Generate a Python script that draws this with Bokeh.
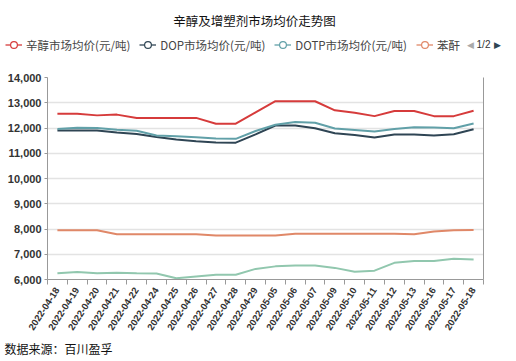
import math
from bokeh.plotting import figure
from bokeh.layouts import column
from bokeh.models import (ColumnDataSource, Range1d, FixedTicker, NumeralTickFormatter,
                          LinearAxis, Legend, LegendItem, Label)
from bokeh.embed import file_html
from bokeh.resources import INLINE

dates = ["2022-04-18", "2022-04-19", "2022-04-20", "2022-04-21", "2022-04-22", "2022-04-24",
         "2022-04-25", "2022-04-26", "2022-04-27", "2022-04-28", "2022-04-29", "2022-05-05",
         "2022-05-06", "2022-05-07", "2022-05-09", "2022-05-10", "2022-05-11", "2022-05-12",
         "2022-05-13", "2022-05-16", "2022-05-17", "2022-05-18"]
octanol = [12560, 12560, 12500, 12530, 12400, 12400, 12400, 12400, 12170, 12170, 12620,
           13060, 13060, 13060, 12700, 12600, 12470, 12670, 12670, 12470, 12470, 12680]
dop = [11900, 11900, 11900, 11820, 11760, 11640, 11540, 11480, 11430, 11420, 11750,
       12100, 12100, 11990, 11790, 11720, 11620, 11740, 11740, 11700, 11750, 11950]
dotp = [11960, 12010, 12000, 11930, 11890, 11700, 11670, 11630, 11580, 11570, 11880,
        12130, 12240, 12210, 11980, 11920, 11860, 11960, 12030, 12020, 11990, 12180]
pa = [7950, 7950, 7950, 7790, 7790, 7790, 7790, 7790, 7740, 7740, 7740,
      7740, 7810, 7810, 7810, 7810, 7810, 7810, 7790, 7900, 7950, 7960]
pta = [6250, 6300, 6250, 6270, 6250, 6240, 6050, 6120, 6190, 6190, 6420,
       6520, 6550, 6550, 6460, 6310, 6350, 6660, 6730, 6730, 6820, 6790]
series_names = ["辛醇市场均价(元/吨)", "DOP市场均价(元/吨)", "DOTP市场均价(元/吨)", "苯酐", "PTA"]
series_colors = ["#d63b3b", "#2f4554", "#61a0a8", "#e08868", "#91c7ae"]
y_ticks = [6000, 7000, 8000, 9000, 10000, 11000, 12000, 13000, 14000]
title_text = "辛醇及增塑剂市场均价走势图"
source_text = "数据来源：百川盈孚"
pager_text = "1/2"

W = 516
FONT = "Noto Sans CJK SC"
xc = [i + 0.5 for i in range(len(dates))]


def blank(h):
    f = figure(width=W, height=h, output_backend="svg", toolbar_location=None,
               x_range=Range1d(0, W), y_range=Range1d(h, 0),
               x_axis_type=None, y_axis_type=None, min_border=0,
               min_border_left=0, min_border_right=0, min_border_top=0, min_border_bottom=0)
    f.frame_align = False
    f.outline_line_color = None
    f.background_fill_color = "white"
    return f


# ---------- header: title + legend ----------
HH = 55
head = blank(HH)
head.add_layout(Label(x=254, y=20, text=title_text, text_align="center", text_baseline="middle",
                      text_font=FONT, text_font_size="12.5px", text_color="#111111"))
# legend-only renderers (a single point placed off the visible header area)
offscreen = ColumnDataSource(dict(x=[-1000], y=[-1000]))
items = []
for name, col in zip(series_names[:4], series_colors[:4]):
    lr = head.line("x", "y", source=offscreen, line_color=col, line_width=1.3)
    mr = head.scatter("x", "y", source=offscreen, marker="circle", fill_color="white",
                      line_color=col, line_width=1.2)
    items.append(LegendItem(label=name, renderers=[lr, mr]))
legend = Legend(items=items, orientation="horizontal", location=(5, 2),
                label_text_font=FONT, label_text_font_size="11.5px", label_text_color="#444444",
                glyph_width=17, glyph_height=17, label_height=17, label_standoff=4, spacing=9,
                padding=0, margin=0, border_line_alpha=0, background_fill_alpha=0)
head.add_layout(legend, "center")
head.add_layout(Label(x=470, y=44, text="◀", text_align="center", text_baseline="middle",
                      text_font="DejaVu Sans", text_font_size="9px", text_color="#aaaaaa"))
head.add_layout(Label(x=483, y=44, text=pager_text, text_align="center", text_baseline="middle",
                      text_font="Liberation Sans", text_font_size="10px", text_color="#333333"))
head.add_layout(Label(x=497, y=44, text="▶", text_align="center", text_baseline="middle",
                      text_font="DejaVu Sans", text_font_size="9px", text_color="#2f4554"))

# ---------- main chart ----------
p = figure(width=W, height=280, output_backend="svg", toolbar_location=None,
           x_range=Range1d(0, len(dates)), y_range=Range1d(y_ticks[0], y_ticks[-1]),
           min_border_left=47, min_border_right=33, min_border_top=22, min_border_bottom=55)
p.frame_align = False
p.outline_line_color = None
p.background_fill_color = "white"

p.xaxis.ticker = FixedTicker(ticks=xc, minor_ticks=list(range(len(dates) + 1)))
p.xaxis.major_label_overrides = {c: d for c, d in zip(xc, dates)}
p.xaxis.major_tick_line_color = None
p.xaxis.major_tick_out = 0
p.xaxis.major_tick_in = 0
p.xaxis.minor_tick_line_color = "#999999"
p.xaxis.minor_tick_out = 5
p.xaxis.minor_tick_in = 0
p.xaxis.axis_line_color = "#999999"
p.xaxis.major_label_orientation = math.radians(57)
p.xaxis.major_label_standoff = 4
p.xaxis.major_label_text_font = "Liberation Sans"
p.xaxis.major_label_text_font_style = "bold"
p.xaxis.major_label_text_font_size = "9.5px"
p.xaxis.major_label_text_color = "#333333"

p.yaxis.ticker = FixedTicker(ticks=y_ticks)
p.yaxis.formatter = NumeralTickFormatter(format="0,0")
p.yaxis.major_label_text_font = "Liberation Sans"
p.yaxis.major_label_text_font_style = "bold"
p.yaxis.major_label_text_font_size = "11px"
p.yaxis.major_label_text_color = "#333333"
p.yaxis.major_tick_out = 3
p.yaxis.major_tick_in = 0
p.yaxis.major_tick_line_color = "#999999"
p.yaxis.minor_tick_line_color = None
p.yaxis.axis_line_color = "#999999"
p.yaxis.major_label_standoff = 3

p.xgrid.visible = False
p.ygrid.ticker = FixedTicker(ticks=y_ticks)
p.ygrid.grid_line_color = "#e3e3e3"
p.ygrid.grid_line_width = 1.5

right = LinearAxis(ticker=FixedTicker(ticks=[]), axis_line_color="#999999",
                   major_tick_line_color=None, minor_tick_line_color=None,
                   major_label_text_font_size="0px")
p.add_layout(right, "right")

for vals, col in zip([octanol, dop, dotp, pa, pta], series_colors):
    src = ColumnDataSource(dict(x=xc, y=vals))
    p.line("x", "y", source=src, line_color=col, line_width=2)

# ---------- footer ----------
FH = 26
foot = blank(FH)
foot.add_layout(Label(x=4, y=13, text=source_text, text_align="left", text_baseline="middle",
                      text_font=FONT, text_font_size="12px", text_color="#111111"))

layout = column(head, p, foot, spacing=0)
open("out.html", "w").write(file_html(layout, INLINE))
